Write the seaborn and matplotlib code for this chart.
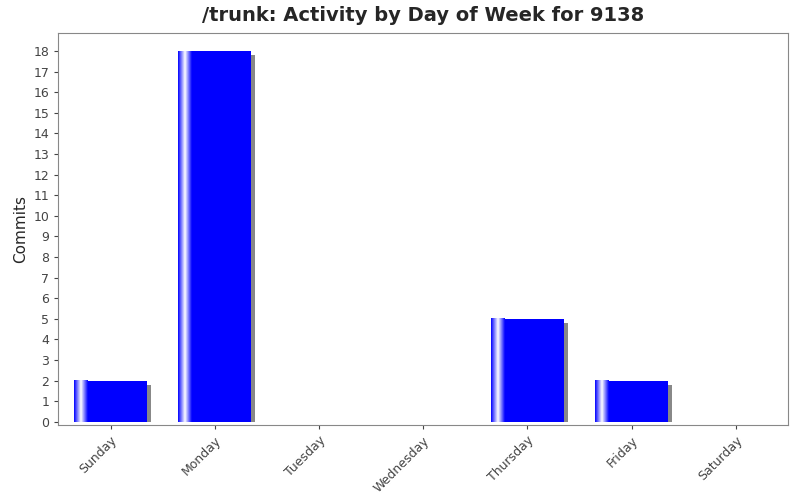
import numpy as np
import matplotlib
matplotlib.use("Agg")
import matplotlib.pyplot as plt
import seaborn as sns
import pandas as pd
from matplotlib.colors import LinearSegmentedColormap

days = ["Sunday", "Monday", "Tuesday", "Wednesday", "Thursday", "Friday", "Saturday"]
commits = [2, 18, 0, 0, 5, 2, 0]

sns.set_style("white")
plt.rcParams['font.family'] = ['DejaVu Sans']
fig = plt.figure(figsize=(8, 5), dpi=100)
ax = fig.add_axes([0.073, 0.15, 0.912, 0.785])
df = pd.DataFrame({"day": days, "commits": commits})

width = 0.7
xs = np.arange(len(days))
shadow = [max(v - 0.2, 0) for v in commits]
ax.bar(xs + 0.04, shadow, width=width, color="#888888", linewidth=0, zorder=1)
sns.barplot(data=df, x="day", y="commits", color="#0000ff", saturation=1,
            width=width, ax=ax, zorder=2, linewidth=0, edgecolor="none")
cmap = LinearSegmentedColormap.from_list("g", ["#0000ff", "#ffffff", "#0000ff"])
grad = np.linspace(0, 1, 100).reshape(1, -1)
for i, v in enumerate(commits):
    if v > 0:
        x0 = i - width / 2
        ax.imshow(grad, cmap=cmap, aspect="auto", extent=[x0, x0 + width * 0.18, 0, v],
                  zorder=3, interpolation="bilinear")

ax.set_xlim(-0.5, 6.5)
ax.set_ylim(-0.15, 18.9)
ax.set_yticks(range(0, 19))
ax.set_xlabel("")
ax.set_ylabel("Commits", fontsize=11)
ax.tick_params(axis="y", labelsize=9, left=True, length=3, colors="#444444")
ax.tick_params(axis="x", labelsize=9, bottom=True, length=3, colors="#444444")
plt.setp(ax.get_xticklabels(), rotation=45, ha="right", rotation_mode="anchor")
for s in ax.spines.values():
    s.set_color("#888888")
ax.set_title("/trunk: Activity by Day of Week for 9138", fontsize=14, fontweight="bold", pad=8)
fig.savefig("out.png", dpi=100)
